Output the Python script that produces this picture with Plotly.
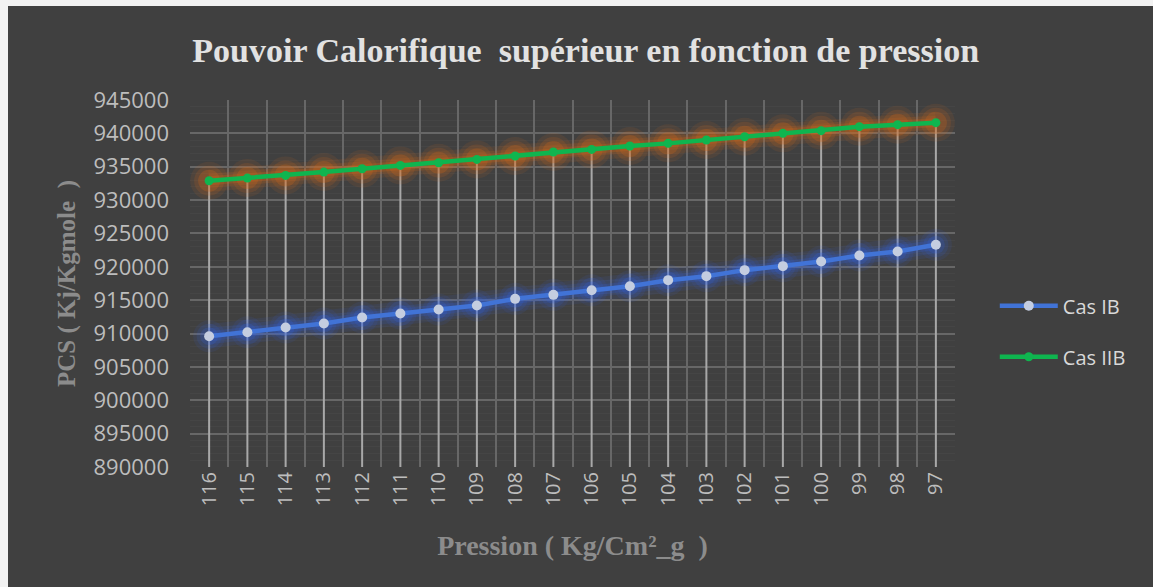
import plotly.graph_objects as go

pressions = ["116", "115", "114", "113", "112", "111", "110", "109", "108", "107",
             "106", "105", "104", "103", "102", "101", "100", "99", "98", "97"]
cas_ib = [909600, 910200, 910900, 911500, 912400, 913000, 913600, 914200, 915200, 915800,
          916500, 917100, 918000, 918600, 919500, 920100, 920800, 921700, 922300, 923300]
cas_iib = [932900, 933300, 933700, 934200, 934700, 935200, 935600, 936100, 936600, 937200,
           937600, 938100, 938500, 939000, 939500, 940000, 940400, 941000, 941300, 941600]
y_ticks = list(range(890000, 945001, 5000))
y_min, y_max = 890000, 945000

BG = "#404040"
fig = go.Figure()

# drop lines
dx, dy = [], []
for c, v in zip(pressions, cas_iib):
    dx += [c, c, None]
    dy += [y_min, v, None]
fig.add_trace(go.Scatter(x=dx, y=dy, mode="lines", line=dict(color="#a8a8a8", width=2),
                         showlegend=False, hoverinfo="skip"))

# soft glows (layered)
for w, ms, a in [(24, 32, 0.09), (16, 25, 0.13), (10, 18, 0.18)]:
    fig.add_trace(go.Scatter(x=pressions, y=cas_ib, mode="lines+markers",
                             line=dict(color=f"rgba(50,100,235,{a})", width=w),
                             marker=dict(size=ms, color=f"rgba(50,100,235,{a})"),
                             showlegend=False, hoverinfo="skip"))
for w, ms, a in [(22, 38, 0.10), (14, 30, 0.15), (9, 22, 0.24)]:
    fig.add_trace(go.Scatter(x=pressions, y=cas_iib, mode="lines+markers",
                             line=dict(color=f"rgba(215,105,25,{a})", width=w),
                             marker=dict(size=ms, color=f"rgba(215,105,25,{a})"),
                             showlegend=False, hoverinfo="skip"))

fig.add_trace(go.Scatter(x=pressions, y=cas_ib, mode="lines+markers", name="Cas IB",
                         line=dict(color="#4173d6", width=4.5),
                         marker=dict(size=10, color="#c4cde0", line=dict(width=0)),
                         legendgroup="a"))
fig.add_trace(go.Scatter(x=pressions, y=cas_iib, mode="lines+markers", name="Cas IIB",
                         line=dict(color="#0fb54f", width=4.5),
                         marker=dict(size=9, color="#0fb54f"),
                         legendgroup="b"))

fig.update_layout(
    width=1153, height=587,
    margin=dict(l=190, r=198, t=100, b=120),
    paper_bgcolor=BG, plot_bgcolor=BG,
    title=dict(text="<b>Pouvoir Calorifique  supérieur en fonction de pression</b>",
               x=0.508, xanchor="center", y=0.915, yanchor="middle",
               font=dict(family="Liberation Serif", size=34, color="#e2e2e2")),
    xaxis=dict(type="category", tickson="boundaries", showgrid=True, gridcolor="#676767",
               gridwidth=1.5, ticks="", tickangle=-90, range=[-0.5, len(pressions) - 0.5],
               tickfont=dict(family="Open Sans", size=20, color="#bdbdbd"),
               showline=False, zeroline=False,
               title=dict(text="<b>Pression ( Kg/Cm²_g  )</b>", standoff=30,
                          font=dict(family="Liberation Serif", size=28, color="#8c8c8c"))),
    yaxis=dict(range=[y_min, y_max], tickvals=y_ticks, tickformat="d",
               showgrid=True, gridcolor="#676767", gridwidth=1.5, zeroline=False,
               minor=dict(dtick=1000, showgrid=True, gridcolor="#454545", gridwidth=1),
               tickfont=dict(family="Open Sans", size=22, color="#bdbdbd"),
               ticks="", ticklen=0, ticklabelstandoff=20,
               title=dict(text="<b>PCS ( Kj/Kgmole  )</b>", standoff=10,
                          font=dict(family="Liberation Serif", size=25, color="#8c8c8c"))),
    legend=dict(x=1.052, y=0.37, xanchor="left", yanchor="middle",
                font=dict(family="Open Sans", size=20, color="#d9d9d9"),
                itemwidth=58,
                tracegroupgap=22, bgcolor="rgba(0,0,0,0)"),
    showlegend=True,
    shapes=[
        dict(type="rect", xref="paper", yref="paper", x0=-0.3, x1=(8 - 190) / 765,
             y0=-0.4, y1=1.3, fillcolor="#f2f2f2", line=dict(width=0), layer="above"),
        dict(type="rect", xref="paper", yref="paper", x0=-0.3, x1=1.3,
             y0=(467 - 6) / 367, y1=1.3, fillcolor="#f2f2f2", line=dict(width=0), layer="above"),
    ],
)

fig.write_html("out.html")
